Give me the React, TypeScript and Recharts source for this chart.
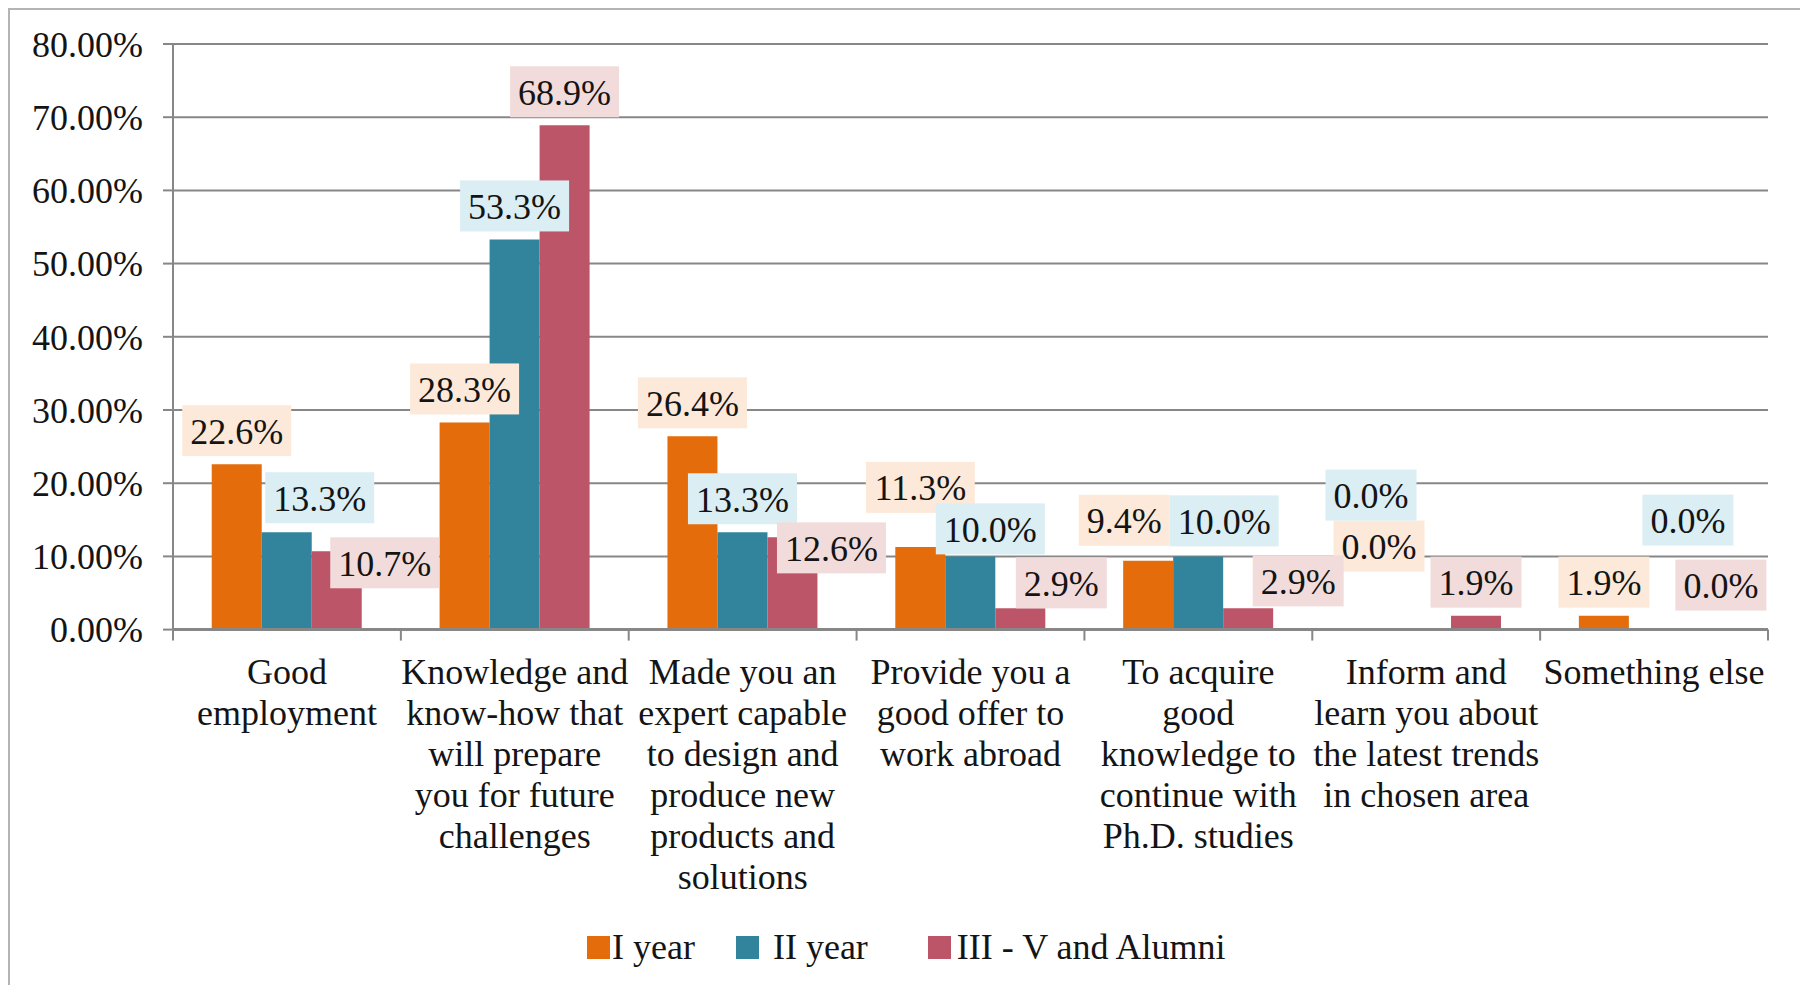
import { BarChart, Bar, XAxis, YAxis, CartesianGrid, Legend, LabelList } from 'recharts'

const categories = [
  'Good\nemployment',
  'Knowledge and\nknow-how that\nwill prepare\nyou for future\nchallenges',
  'Made you an\nexpert capable\nto design and\nproduce new\nproducts and\nsolutions',
  'Provide you a\ngood offer to\nwork abroad',
  'To acquire\ngood\nknowledge to\ncontinue with\nPh.D. studies',
  'Inform and\nlearn you about\nthe latest trends\nin chosen area',
  'Something else',
]

const firstYear = [22.6, 28.3, 26.4, 11.3, 9.4, 0.0, 1.9]
const secondYear = [13.3, 53.3, 13.3, 10.0, 10.0, 0.0, 0.0]
const laterAndAlumni = [10.7, 68.9, 12.6, 2.9, 2.9, 1.9, 0.0]

const yTicks = [0, 10, 20, 30, 40, 50, 60, 70, 80]

const seriesNames = ['I year', 'II year', 'III - V and Alumni']

const data = categories.map((name, i) => ({
  name,
  first: firstYear[i],
  second: secondYear[i],
  later: laterAndAlumni[i],
}))

const FONT = '"Liberation Serif", "Times New Roman", serif'
const FS = 36
const TEXT = '#141414'
const GRID = '#878787'

const barColors = ['#E46C0A', '#31849B', '#BD5568']
const labelBg = ['#FDE9D9', '#DAEEF3', '#F2DCDB']

// nudges for the data labels so they sit where the original placed them
const labelShift: number[][][] = [
  [[0, 0], [0, 0], [0, 0], [0, -26], [-24, -7], [3, -50], [0, 0]],
  [[33, -1], [0, 0], [0, 0], [20, 6], [26, -2], [-55, -101], [34, -76]],
  [[48, 45], [0, 0], [39, 44], [41, 8], [50, 6], [0, 0], [17, -11]],
]

// zero bars get a hair of height so recharts still hands them to the labels
const keepZero = (v: any) => (Number(v) === 0 ? 0.01 : 0)

function textWidth(s: string) {
  let w = 0
  for (const c of s) {
    if (c === '.') w += 0.25
    else if (c === '%') w += 0.833
    else w += 0.5
  }
  return w * FS
}

function makeLabel(series: number) {
  return (props: any) => {
    const { x, y, width, height, value, index } = props
    const text = `${Number(value).toFixed(1)}%`
    const [dx, dy] = labelShift[series][index] || [0, 0]
    const w = textWidth(text) + 16
    const h = 51
    const top = Math.min(y, y + (height || 0))
    const cx = x + width / 2 + dx
    const bottom = top - 8 + dy
    return (
      <g>
        <rect x={cx - w / 2} y={bottom - h} width={w} height={h} fill={labelBg[series]} />
        <text
          x={cx}
          y={bottom - h / 2 + 1}
          textAnchor="middle"
          dominantBaseline="central"
          fontFamily={FONT}
          fontSize={FS}
          fill={TEXT}
        >
          {text}
        </text>
      </g>
    )
  }
}

function CategoryTick(props: any) {
  const { x, y, payload, index } = props
  const half = payload.offset || 114
  const lines = String(payload.value).split('\n')
  return (
    <g>
      <line x1={x - half} x2={x - half} y1={y} y2={y + 11} stroke={GRID} strokeWidth={2} />
      {index === categories.length - 1 && (
        <line x1={x + half} x2={x + half} y1={y} y2={y + 11} stroke={GRID} strokeWidth={2} />
      )}
      <text x={x} y={y + 54.5} textAnchor="middle" fontFamily={FONT} fontSize={FS} fill={TEXT}>
        {lines.map((l, i) => (
          <tspan key={i} x={x} dy={i === 0 ? 0 : 41}>
            {l}
          </tspan>
        ))}
      </text>
    </g>
  )
}

const squareGap = [2, 14, 6]
const itemGap = [41, 60, 0]

function LegendContent() {
  return (
    <div
      style={{
        display: 'flex',
        alignItems: 'center',
        height: 40,
        fontFamily: FONT,
        fontSize: FS,
        lineHeight: '40px',
        color: TEXT,
        whiteSpace: 'nowrap',
      }}
    >
      {seriesNames.map((name, i) => (
        <div key={name} style={{ display: 'flex', alignItems: 'center', marginRight: itemGap[i] }}>
          <span style={{ width: 23, height: 23, background: barColors[i], marginRight: squareGap[i] }} />
          <span>{name}</span>
        </div>
      ))}
    </div>
  )
}

export default function App() {
  return (
    <div
      style={{
        width: 1796,
        height: 975,
        borderLeft: '2px solid #b4b4b4',
        borderTop: '2px solid #b4b4b4',
        borderRight: '2px solid #9a9a9a',
        background: '#fff',
      }}
    >
      <style>{'body{overflow:hidden}'}</style>
      <BarChart
        width={1796}
        height={975}
        data={data}
        margin={{ top: 34, right: 38, left: 0, bottom: 0 }}
        barCategoryGap="17%"
        barGap={0}
      >
        <CartesianGrid vertical={false} stroke={GRID} strokeWidth={2} />
        <XAxis
          dataKey="name"
          height={355.4}
          interval={0}
          tickLine={false}
          tickSize={0}
          tickMargin={0}
          axisLine={{ stroke: GRID, strokeWidth: 3 }}
          tick={<CategoryTick />}
        />
        <YAxis
          width={163}
          domain={[0, 80]}
          ticks={yTicks}
          interval={0}
          tickSize={10}
          tickMargin={20}
          axisLine={{ stroke: GRID, strokeWidth: 2 }}
          tickLine={{ stroke: GRID, strokeWidth: 2 }}
          tickFormatter={(v) => `${Number(v).toFixed(2)}%`}
          tick={{ fontFamily: FONT, fontSize: FS, fill: TEXT }}
        />
        <Legend
          verticalAlign="middle"
          align="center"
          layout="horizontal"
          content={<LegendContent />}
          wrapperStyle={{ top: 917, left: 577, width: 720 }}
        />
        <Bar dataKey="first" name={seriesNames[0]} fill={barColors[0]} minPointSize={keepZero} isAnimationActive={false}>
          <LabelList dataKey="first" content={makeLabel(0)} />
        </Bar>
        <Bar dataKey="second" name={seriesNames[1]} fill={barColors[1]} minPointSize={keepZero} isAnimationActive={false}>
          <LabelList dataKey="second" content={makeLabel(1)} />
        </Bar>
        <Bar dataKey="later" name={seriesNames[2]} fill={barColors[2]} minPointSize={keepZero} isAnimationActive={false}>
          <LabelList dataKey="later" content={makeLabel(2)} />
        </Bar>
      </BarChart>
    </div>
  )
}
